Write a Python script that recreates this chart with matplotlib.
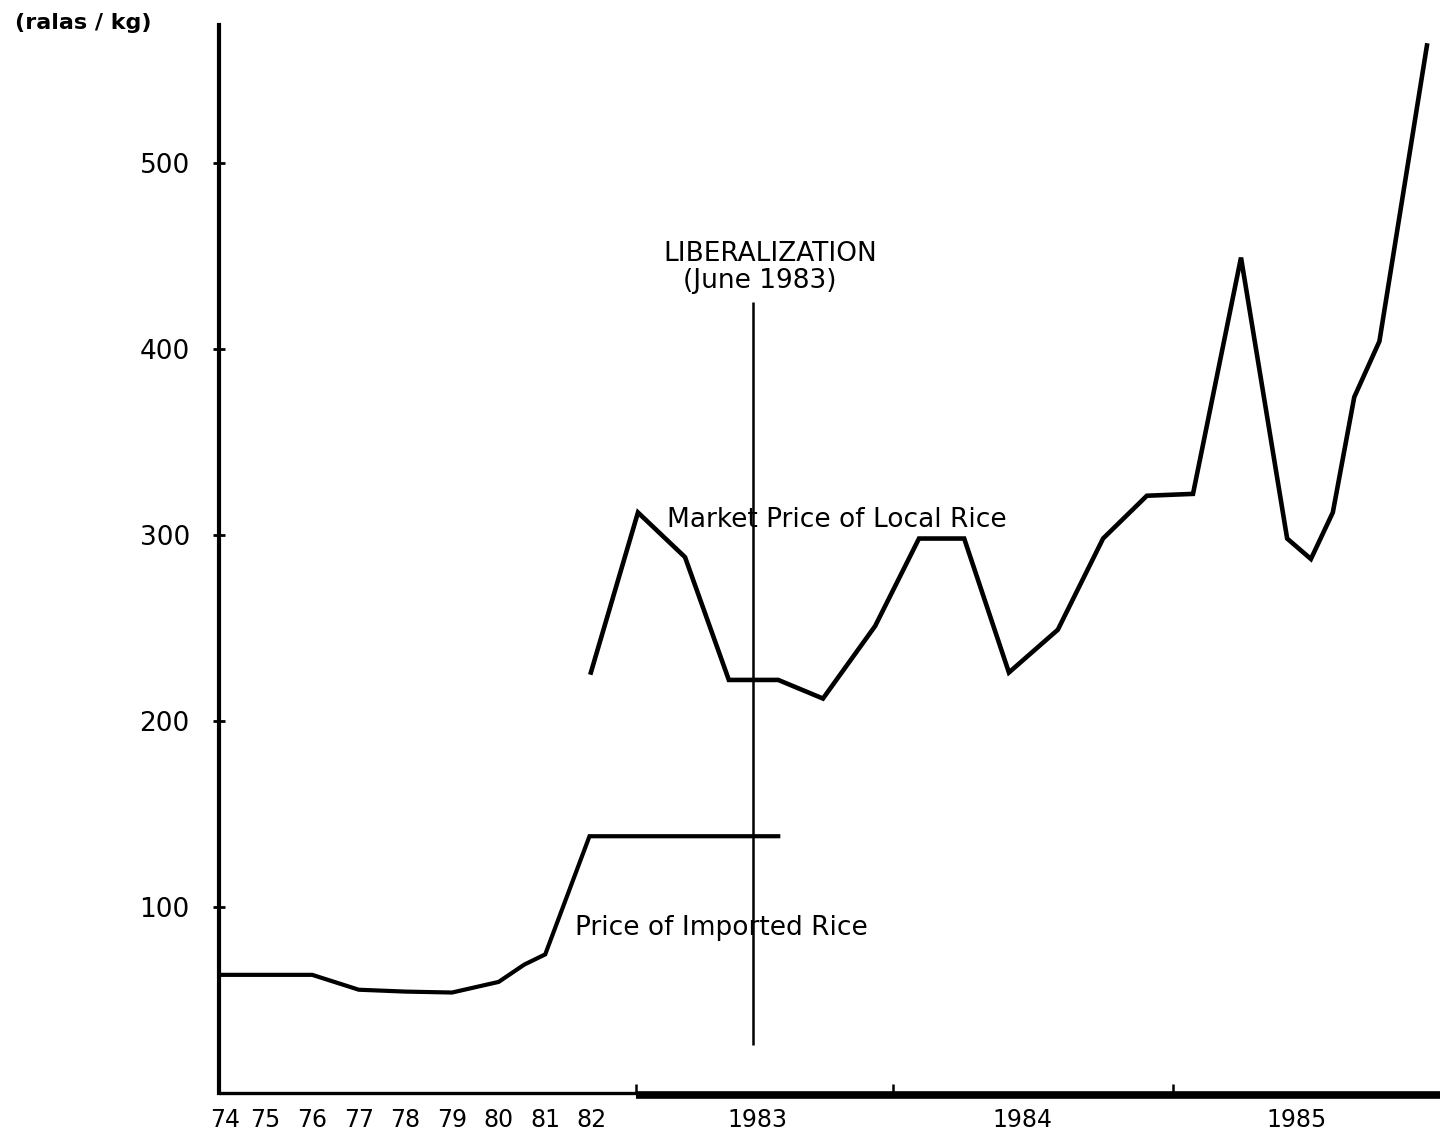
import matplotlib
matplotlib.use("Agg")
import matplotlib.pyplot as plt

# x runs in "slots": 74..82 are yearly steps 0..8, after that roughly bimonthly steps
year_pos = [0.13, 1, 2, 3, 4, 5, 6, 7, 8]
year_labels = ["74", "75", "76", "77", "78", "79", "80", "81", "82"]
late_year_pos = [11.55, 17.25, 23.13]
late_year_labels = ["1983", "1984", "1985"]
boundary_ticks = [8.95, 14.46, 20.47]

# price of imported rice (ralas/kg)
imported_x = [0, 1, 2, 3, 4, 5, 6, 6.55, 7, 7.95, 12]
imported_y = [63.5, 63.5, 63.5, 55.5, 54.5, 54, 59.7, 69, 74.5, 138, 138]

# market price of local rice (ralas/kg)
local_x = [7.98, 8.99, 10.0, 10.94, 12.0, 12.96, 14.08, 15.02, 15.99, 16.95,
           18.0, 18.97, 19.91, 20.9, 21.93, 22.92, 23.43, 23.9, 24.36, 24.9, 25.92]
local_y = [226, 312, 288, 222, 222, 212, 251, 298, 298, 226,
           249, 298, 321, 322, 449, 298, 287, 312, 374, 404, 563]

liberalization_x = 11.46
liberalization_span = (26, 425)

yticks = [100, 200, 300, 400, 500]

plt.rcParams['font.family'] = ['DejaVu Sans']

fig = plt.figure(figsize=(14.4, 11.34), dpi=100)
ax = fig.add_axes([219 / 1440, 41 / 1134, 1 - 219 / 1440, (1093 - 25) / 1134])
ax.set_xlim(0, 26.2)
ax.set_ylim(0, 574)

ax.plot(imported_x, imported_y, color="black", lw=3.0, solid_joinstyle="miter")
ax.plot(local_x, local_y, color="black", lw=3.3, solid_joinstyle="miter")
ax.vlines(liberalization_x, *liberalization_span, color="black", lw=1.8)

# spines: left full height, bottom thin then heavy
for s in ["top", "right", "bottom"]:
    ax.spines[s].set_visible(False)
ax.spines["left"].set_linewidth(3.0)
ax.plot([0, boundary_ticks[0]], [0, 0], color="black", lw=2.4,
        solid_capstyle="butt", clip_on=False)
ax.plot([boundary_ticks[0], 26.2], [-1.3, -1.3], color="black", lw=5.5,
        solid_capstyle="butt", clip_on=False)

# x ticks: labels as major (no marks), marks as minor
ax.set_xticks(year_pos + late_year_pos)
ax.set_xticklabels(year_labels + late_year_labels)
ax.tick_params(axis="x", which="major", length=0, pad=11, labelsize=17)
ax.set_xticks([1, 2, 3, 4, 5, 6, 7, 8] + boundary_ticks, minor=True)
ax.tick_params(axis="x", which="minor", direction="in", length=6.5, width=1.8)

ax.set_yticks(yticks)
ax.set_yticklabels([str(v) for v in yticks])
ax.tick_params(axis="y", direction="inout", length=9, width=2, pad=16.5, labelsize=19)

ax.text(11.82, 451, "LIBERALIZATION", ha="center", va="center", fontsize=19)
ax.text(11.6, 436.6, "(June 1983)", ha="center", va="center", fontsize=19)
ax.text(9.61, 308, "Market Price of Local Rice", ha="left", va="center", fontsize=19)
ax.text(7.64, 88.7, "Price of Imported Rice", ha="left", va="center", fontsize=19)

fig.text(15 / 1440, 1 - 23 / 1134, "(ralas / kg)", ha="left", va="center",
         fontsize=16, fontweight="bold")

fig.savefig("out.png", dpi=100)
